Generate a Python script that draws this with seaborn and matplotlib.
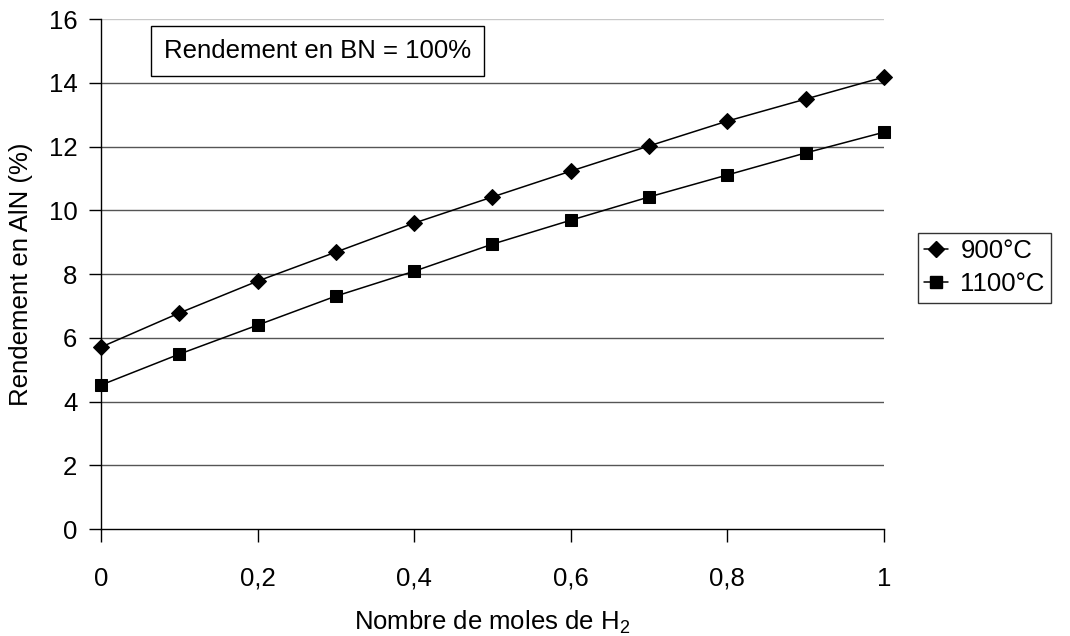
import matplotlib
matplotlib.use("Agg")
import matplotlib.pyplot as plt
import seaborn as sns
import pandas as pd
from matplotlib.ticker import FuncFormatter, MultipleLocator
from matplotlib.lines import Line2D

h2_moles = [0.0, 0.1, 0.2, 0.3, 0.4, 0.5, 0.6, 0.7, 0.8, 0.9, 1.0]
yield_900 = [5.71, 6.78, 7.78, 8.69, 9.60, 10.42, 11.23, 12.02, 12.80, 13.49, 14.18]
yield_1100 = [4.52, 5.49, 6.40, 7.31, 8.09, 8.94, 9.69, 10.42, 11.11, 11.80, 12.45]
series_names = ["900°C", "1100°C"]
annotation = "Rendement en BN = 100%"

df = pd.DataFrame({
    "x": h2_moles * 2,
    "y": yield_900 + yield_1100,
    "serie": [series_names[0]] * len(h2_moles) + [series_names[1]] * len(h2_moles),
})

sns.set_theme(style="white")
plt.rcParams["font.family"] = ["Liberation Sans", "DejaVu Sans"]
plt.rcParams["mathtext.fontset"] = "custom"
plt.rcParams["mathtext.rm"] = "Liberation Sans"
plt.rcParams["mathtext.it"] = "Liberation Sans"
plt.rcParams["text.color"] = "black"
plt.rcParams["axes.labelcolor"] = "black"
plt.rcParams["xtick.color"] = "black"
plt.rcParams["ytick.color"] = "black"

FS = 18.5

fig = plt.figure(figsize=(10.7, 6.36), dpi=100)
ax = fig.add_axes([0.0944, 0.168, 0.7316, 0.802])

markers = {series_names[0]: "D", series_names[1]: "s"}
sns.lineplot(data=df, x="x", y="y", hue="serie", style="serie",
             palette=["black", "black"], markers=markers, dashes=False,
             markersize=8, linewidth=1.1, markeredgecolor="black",
             legend=False, ax=ax, zorder=3, clip_on=False)

ax.set_xlim(0, 1)
ax.set_ylim(0, 16)
ax.yaxis.set_major_locator(MultipleLocator(2))
ax.xaxis.set_major_locator(MultipleLocator(0.2))

def comma(v, pos):
    s = f"{v:.1f}".rstrip("0").rstrip(".")
    return s.replace(".", ",")

ax.xaxis.set_major_formatter(FuncFormatter(comma))
ax.yaxis.set_major_formatter(FuncFormatter(lambda v, p: f"{int(round(v))}"))

for y in range(2, 17, 2):
    ax.axhline(y, color="#555555" if y < 16 else "#c8c8c8", linewidth=1.0, zorder=1)

for s in ["top", "right"]:
    ax.spines[s].set_visible(False)
for s in ["left", "bottom"]:
    ax.spines[s].set_color("black")
    ax.spines[s].set_linewidth(1.0)

ax.tick_params(axis="x", direction="out", length=9, width=1, color="black",
               pad=18, labelsize=FS, bottom=True, labelcolor="black")
ax.tick_params(axis="y", direction="out", length=9, width=1, color="black",
               pad=8, labelsize=FS, left=True, labelcolor="black")

ax.set_xlabel("Nombre de moles de H$_2$", fontsize=FS, labelpad=13, color="black")
ax.set_ylabel("Rendement en AlN (%)", fontsize=FS, labelpad=11, color="black")

ax.text(0.277, 0.938, annotation, transform=ax.transAxes, fontsize=FS,
        ha="center", va="center", color="black",
        bbox=dict(boxstyle="square,pad=0.5", fc="white", ec="black", lw=1.0),
        zorder=5)

handles = [Line2D([0], [0], color="black", lw=1.1, marker=markers[n],
                  markersize=8, markerfacecolor="black", markeredgecolor="black")
           for n in series_names]
leg = fig.legend(handles, series_names, loc="upper left",
                 bbox_to_anchor=(918 / 1070, 1 - 233 / 636),
                 fontsize=FS, frameon=True, fancybox=False, edgecolor="black",
                 handlelength=0.9, handletextpad=0.5, borderpad=0.25,
                 labelspacing=0.35, borderaxespad=0)
leg.get_frame().set_linewidth(1.0)
for t in leg.get_texts():
    t.set_color("black")

fig.savefig("out.png", dpi=100)
